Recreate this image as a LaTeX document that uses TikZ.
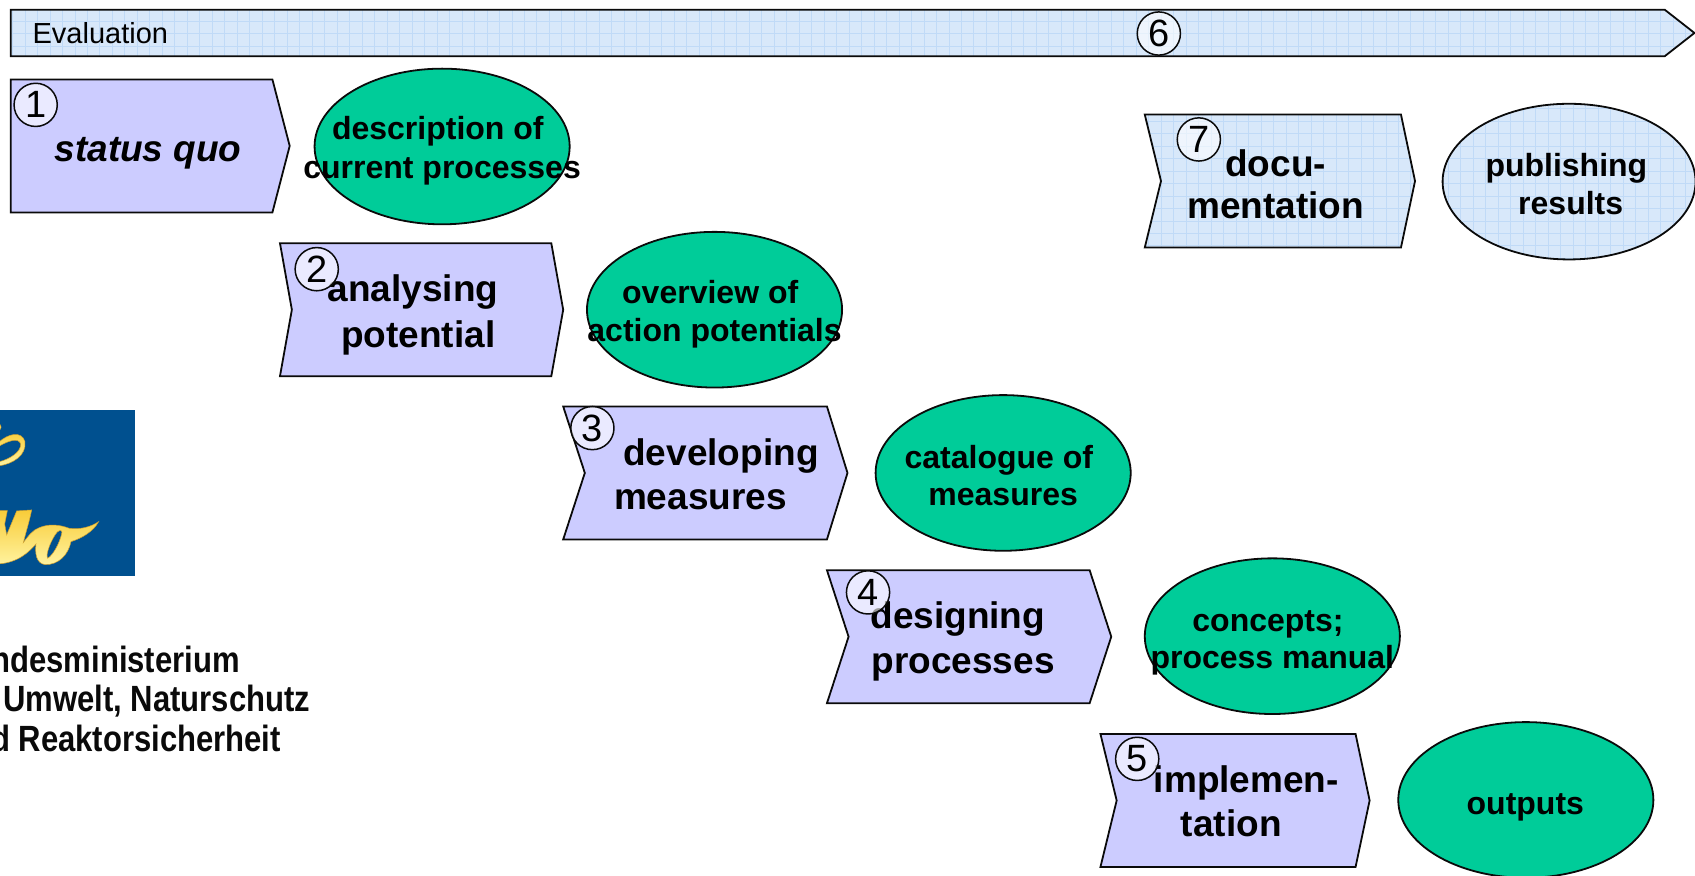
\documentclass[tikz,border=0pt]{standalone}
\usepackage{fontspec}
\setmainfont{Liberation Sans}
\definecolor{lav}{HTML}{CCCCFF}
\definecolor{teal}{HTML}{00CC99}
\definecolor{paleblue}{HTML}{D8E8FA}
\definecolor{gridblue}{HTML}{C0DAF7}
\definecolor{logoblue}{HTML}{00508F}
\definecolor{goldedge}{HTML}{D0A030}
\definecolor{goldtop}{HTML}{F8CC38}
\definecolor{goldlow}{HTML}{FFF3A0}
\definecolor{inkblack}{HTML}{0A0A0A}
\newcommand{\gridpatch}[1]{%
  \begin{scope}
    \clip #1;
    \foreach \gx in {0,11.55,...,1568}{\draw[gridline] (\gx,0) -- (\gx,810);}
    \foreach \gy in {8,19.55,...,810}{\draw[gridline] (0,\gy) -- (1568,\gy);}
  \end{scope}}
\tikzset{
  x=1.0810pt,y=-1.0810pt,
  gridline/.style={gridblue,line width=.8pt},
  outline/.style={draw=inkblack,line width=1.8pt,line join=miter},
  proc/.style={inner sep=0pt,anchor=base,font=\fontsize{37}{37}\selectfont\bfseries},
  res/.style={inner sep=0pt,anchor=base,font=\fontsize{32}{32}\selectfont\bfseries},
  numcirc/.style={circle,draw=inkblack,line width=1.5pt,minimum size=43.2pt,inner sep=0pt,
    fill=white,fill opacity=.6,text opacity=1,font=\fontsize{38}{38}\selectfont},
  minis/.style={inner sep=0pt,anchor=base east,text=inkblack,font=\fontsize{36.5}{36.5}\selectfont\bfseries},
  goldshape/.style={draw=goldedge,line width=.5pt,top color=goldtop,bottom color=goldlow,even odd rule},
}
\begin{document}
\begin{tikzpicture}
\useasboundingbox (0,0) rectangle (1568,810.3);
% bar
\fill[paleblue] (10,9) -- (1540,9) -- (1568,30.5) -- (1540,52) -- (10,52) -- cycle;
\gridpatch{(10,9) -- (1540,9) -- (1568,30.5) -- (1540,52) -- (10,52) -- cycle}
\draw[outline] (10,9) -- (1540,9) -- (1567.5,30.5) -- (1540,52) -- (10,52) -- cycle;
\node[inner sep=0pt,anchor=base west,font=\fontsize{29}{29}\selectfont] (evaltext) at (30,40) {Evaluation};
% process boxes
\draw[outline,fill=lav] (10,73.5) -- (252,73.5) -- (268,135) -- (252,196.5) -- (10,196.5) -- cycle;
\draw[outline,fill=lav] (259,225) -- (510,225) -- (521,286.5) -- (510,348) -- (259,348) -- (270,286.5) -- cycle;
\draw[outline,fill=lav] (521,376) -- (765,376) -- (784,437.5) -- (765,499) -- (521,499) -- (541,437.5) -- cycle;
\draw[outline,fill=lav] (765,527.5) -- (1008,527.5) -- (1028,589) -- (1008,650.5) -- (765,650.5) -- (785,589) -- cycle;
\draw[outline,fill=lav] (1018,679) -- (1254,679) -- (1267,740.5) -- (1254,802) -- (1018,802) -- (1033,740.5) -- cycle;
\fill[paleblue] (1059,106) -- (1296,106) -- (1309,167.5) -- (1296,229) -- (1059,229) -- (1074,167.5) -- cycle;
\gridpatch{(1059,106) -- (1296,106) -- (1309,167.5) -- (1296,229) -- (1059,229) -- (1074,167.5) -- cycle}
\draw[outline] (1059,106) -- (1296,106) -- (1309,167.5) -- (1296,229) -- (1059,229) -- (1074,167.5) -- cycle;
% ellipses
\draw[outline,fill=teal] (409,135.5) ellipse [x radius=118,y radius=72];
\draw[outline,fill=teal] (661,286.5) ellipse [x radius=118,y radius=72];
\draw[outline,fill=teal] (928,437.5) ellipse [x radius=118,y radius=72];
\draw[outline,fill=teal] (1177,588.5) ellipse [x radius=118,y radius=72];
\draw[outline,fill=teal] (1411.5,740) ellipse [x radius=118,y radius=72];
\fill[paleblue] (1451.5,168) ellipse [x radius=117,y radius=72];
\gridpatch{(1451.5,168) ellipse [x radius=117,y radius=72]}
\draw[outline] (1451.5,168) ellipse [x radius=117,y radius=72];
% logo
\fill[logoblue] (0,379) rectangle (125,533);
\begin{scope}[x=.3333pt,y=-.3333pt,shift={(0,1200)}]
  \begin{scope}
  \clip (0,0) rectangle (405,530);
  \path[goldshape] (-5,70) .. controls (6,75) and (6,88) .. (-5,92) -- cycle;
  \path[goldshape] (-5,128) .. controls (25,100) and (65,92) .. (75,125)
     .. controls (80,165) and (40,192) .. (-5,198) -- (-5,186)
     .. controls (30,178) and (64,155) .. (62,132)
     .. controls (56,112) and (25,122) .. (-5,140) -- cycle;
  \path[goldshape] (-5,332) -- (22,332) -- (14,372) -- (20,405) -- (50,333) -- (95,330)
     .. controls (88,365) and (78,395) .. (70,428)
     .. controls (85,408) and (98,390) .. (118,383)
     .. controls (150,370) and (180,375) .. (208,385)
     .. controls (240,390) and (275,380) .. (296,365)
     .. controls (280,395) and (245,415) .. (213,425)
     .. controls (205,465) and (175,495) .. (135,494)
     .. controls (108,490) and (105,460) .. (108,432)
     .. controls (88,455) and (55,488) .. (-5,492) -- cycle
     (172,396) .. controls (182,388) and (188,392) .. (185,402)
     .. controls (178,430) and (160,465) .. (143,475)
     .. controls (135,465) and (155,415) .. (172,396) -- cycle;
  \end{scope}
\end{scope}
% ministry text
\node[minis] (m1) at (222,622) {\scalebox{.85}[1]{ndesministerium}};
\node[minis] (m2) at (287,658) {\scalebox{.85}[1]{Umwelt, Naturschutz}};
\node[minis] (m3) at (260,695) {\scalebox{.85}[1]{d Reaktorsicherheit}};
% process labels
\node[proc] (p1) at (137,149) {\itshape status quo};
\node[proc] (p2a) at (382,279) {analysing};
\node[proc] (p2b) at (387,321) {potential};
\node[proc] (p3a) at (667,431) {developing};
\node[proc] (p3b) at (648,471) {measures};
\node[proc] (p4a) at (886,581) {designing};
\node[proc] (p4b) at (891,623) {processes};
\node[proc] (p5a) at (1153,733) {implemen-};
\node[proc] (p5b) at (1139,774) {tation};
\node[proc] (p7a) at (1180,163) {docu-};
\node[proc] (p7b) at (1180,202) {mentation};
% result labels
\node[res] (r1a) at (405,129) {description of};
\node[res] (r1b) at (409,165) {current processes};
\node[res] (r2a) at (657,281) {overview of};
\node[res] (r2b) at (661,316) {action potentials};
\node[res] (r3a) at (924,433) {catalogue of};
\node[res] (r3b) at (928,468) {measures};
\node[res] (r4a) at (1173,584) {concepts;};
\node[res] (r4b) at (1177,618) {process manual};
\node[res] (r5) at (1411,753) {outputs};
\node[res] (r7a) at (1449,163) {publishing};
\node[res] (r7b) at (1453,198) {results};
% numbers
\node[numcirc] (n1) at (33,97) {1};
\node[numcirc] (n2) at (293,249) {2};
\node[numcirc] (n3) at (548,396) {3};
\node[numcirc] (n4) at (803,548) {4};
\node[numcirc] (n5) at (1052,702) {5};
\node[numcirc] (n6) at (1072,31) {6};
\node[numcirc] (n7) at (1109,129) {7};
\end{tikzpicture}
\end{document}
